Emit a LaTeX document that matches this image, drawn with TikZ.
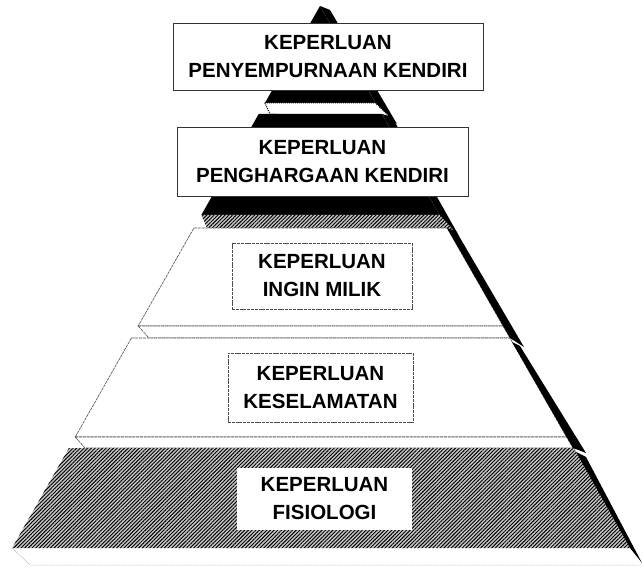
\documentclass[tikz,border=0pt]{standalone}
\usepackage{fontspec}
\setsansfont{Liberation Sans}
\usetikzlibrary{patterns.meta}

\begin{document}
\begin{tikzpicture}[x=1pt,y=-1pt,
    hatched/.style={preaction={fill=black!22},pattern={Lines[angle=45,distance=2.6pt,line width=0.95pt]}},
    tieredge/.style={draw=black!70,line width=0.6pt,dash pattern=on 3pt off 0.8pt},
    sideband/.style={fill=black},
    labelbox/.style={rectangle,fill=white,align=center,inner sep=0pt,
      font=\sffamily\bfseries\fontsize{20.5}{28}\selectfont}]
  \useasboundingbox (0,0) rectangle (643,569);

  % top tiers (black faces)
  \fill[sideband] (320,6) -- (330,10) -- (397,124) -- (382,114) -- cycle;
  \fill[sideband] (320,6) -- (375.5,103) -- (264.9,103) -- cycle;
  \filldraw[fill=white,draw=black,densely dotted,line width=1pt] (264.9,103) -- (375.5,103) -- (394,121) -- (270,114) -- cycle;
  \fill[sideband] (382,114) -- (392,117) -- (459,236) -- (447,228) -- cycle;
  \fill[sideband] (258.7,114) -- (381.8,114) -- (439.5,215) -- (201.3,215) -- cycle;
  \fill[hatched] (201.3,215) -- (439.5,215) -- (456,233) -- (207,228) -- cycle;

  % lower tiers
  \filldraw[fill=white,tieredge] (193.9,228) -- (447,228) -- (503,326) -- (138.2,326) -- cycle;
  \filldraw[fill=white,tieredge] (138.2,326) -- (503,326) -- (510,338) -- (149,338) -- cycle;
  \filldraw[fill=white,tieredge] (131.4,338) -- (509.9,338) -- (566.5,437) -- (75.2,437) -- cycle;
  \filldraw[fill=white,tieredge] (75.2,437) -- (566.5,437) -- (573,448) -- (85,448) -- cycle;
  \fill[hatched] (68.9,448) -- (574,448) -- (630,548) -- (12.1,548) -- cycle;
  \draw[draw=black!45,line width=0.5pt,densely dotted] (12.1,548) -- (30,565) -- (641,565);

  % side bands
  \fill[sideband] (447,228) -- (456,231) -- (524,347) -- (510,338) -- cycle;
  \fill[sideband] (512,342) -- (520,346) -- (586,453) -- (573,448) -- cycle;
  \fill[sideband] (576,452) -- (586,457) -- (642,563) -- (630,548) -- cycle;

  % labels
  \node[labelbox,draw=black!80,line width=0.6pt,minimum width=310pt,minimum height=67pt] (selfact) at (328,56.5) {KEPERLUAN\\PENYEMPURNAAN KENDIRI};
  \node[labelbox,draw=black!80,line width=0.6pt,minimum width=291pt,minimum height=69pt] (esteem) at (322.5,161.5) {KEPERLUAN\\PENGHARGAAN KENDIRI};
  \node[labelbox,tieredge,minimum width=180pt,minimum height=66pt] (belong) at (322,276) {KEPERLUAN\\INGIN MILIK};
  \node[labelbox,tieredge,minimum width=185pt,minimum height=69pt] (safety) at (320.5,387.5) {KEPERLUAN\\KESELAMATAN};
  \node[labelbox,minimum width=175pt,minimum height=62pt] (physio) at (324.5,499) {KEPERLUAN\\FISIOLOGI};
\end{tikzpicture}
\end{document}
